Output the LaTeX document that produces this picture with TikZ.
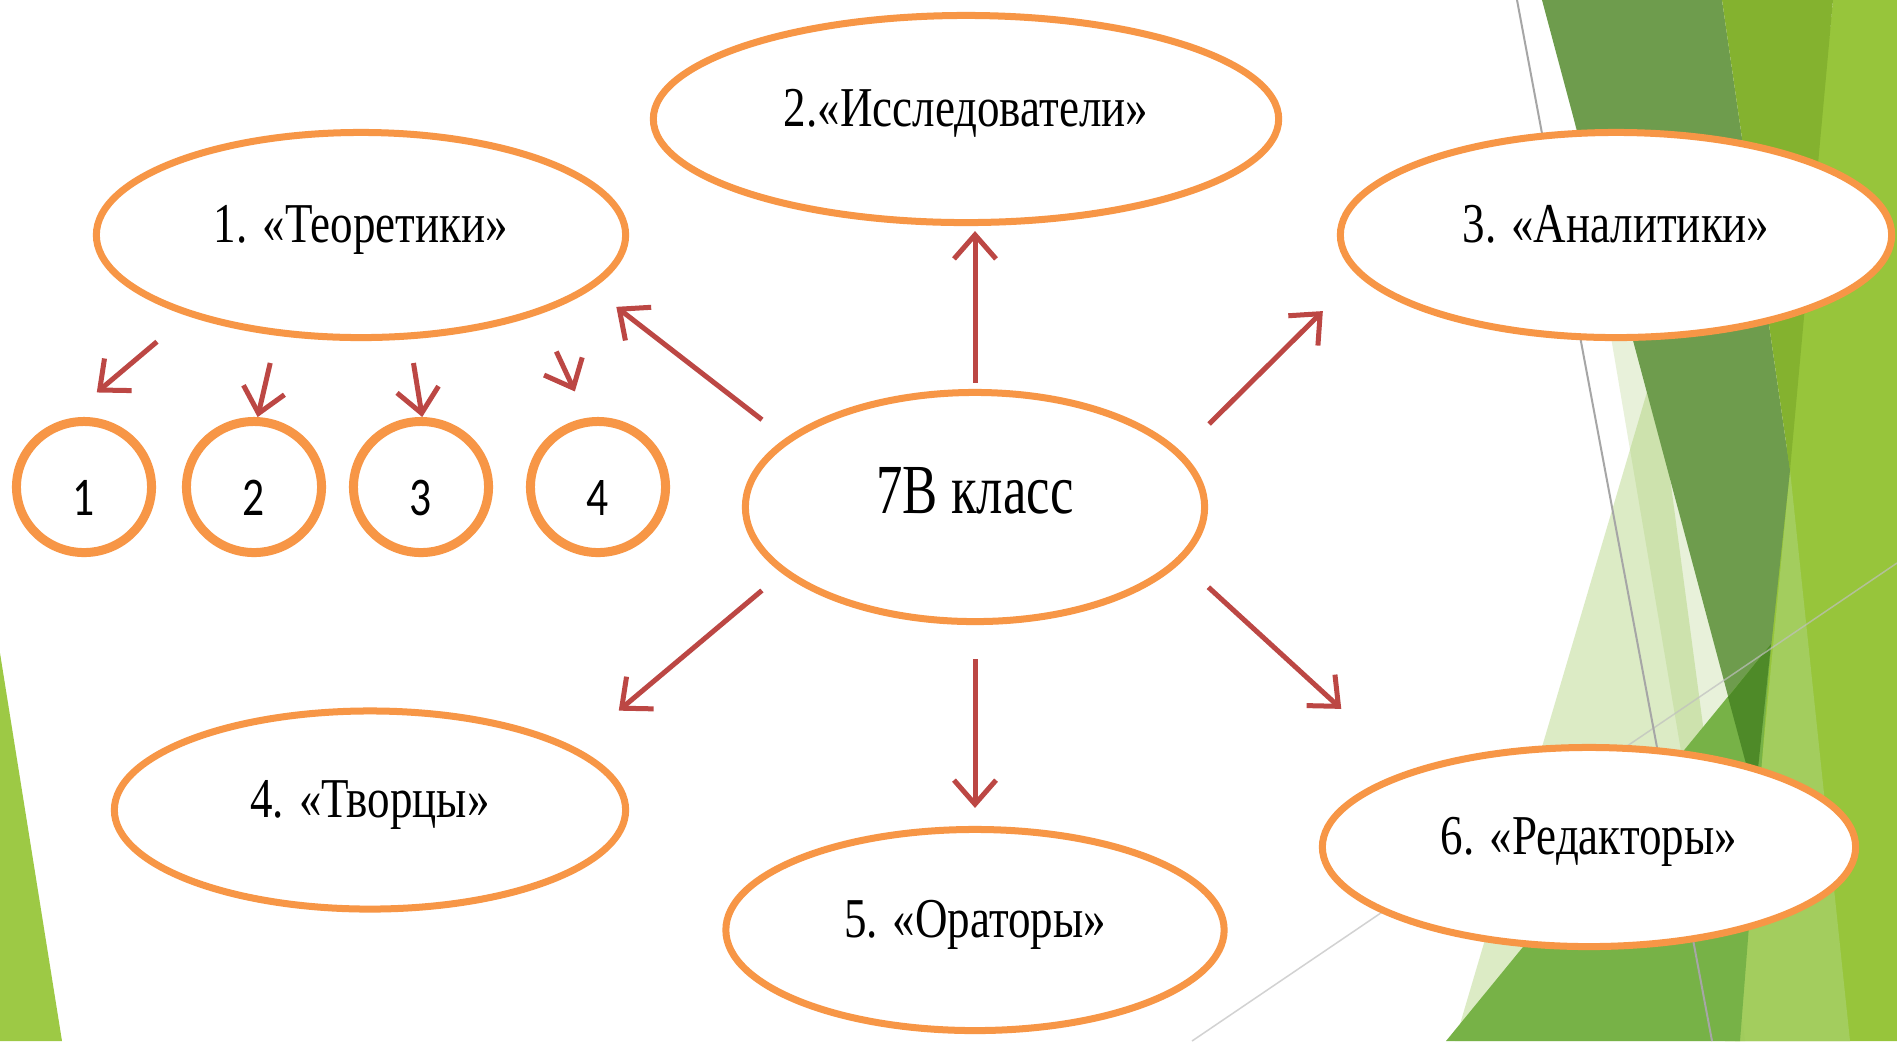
\documentclass[tikz,border=0pt]{standalone}
\usepackage{fontspec}
\setmainfont{Liberation Serif}
\newfontfamily\lblfont[FakeStretch=0.8]{Liberation Serif}
\newfontfamily\ctrfont[FakeStretch=0.75]{Liberation Serif}
\newfontfamily\numfont[FakeStretch=0.8]{Carlito}
\usetikzlibrary{shapes.geometric,arrows.meta}
\definecolor{ringorange}{HTML}{F79646}
\definecolor{arrowred}{HTML}{BC4744}
\definecolor{bgL}{HTML}{97C53B}
\definecolor{bgLL}{HTML}{A3CD5E}
\definecolor{bgB}{HTML}{84B22F}
\definecolor{bgD}{HTML}{6E9C4D}
\definecolor{bgDm}{HTML}{4E8A28}
\definecolor{bgM}{HTML}{77B247}
\definecolor{bgP}{HTML}{E8F1DA}
\definecolor{bgT}{HTML}{9CC85A}
\definecolor{bgS}{HTML}{9DC945}
\tikzset{
  bubble/.style={ellipse, draw=ringorange, fill=white, line width=0.07cm, inner sep=0pt,
    text height=0.37cm, text depth=0.23cm, font=\lblfont\fontsize{16}{18}\selectfont},
  ring/.style={ellipse, draw=ringorange, fill=white, line width=0.09cm, inner sep=0pt,
    minimum width=1.35cm, minimum height=1.31cm, text height=0.56cm, text depth=0cm,
    font=\numfont\fontsize{15.5}{17}\selectfont},
  arr/.style={draw=arrowred, line width=0.05cm, -{Straight Barb[length=0.24cm,width=0.42cm]}},
}
\begin{document}
\begin{tikzpicture}[x=0.01cm,y=-0.01cm]
\useasboundingbox (0,0) rectangle (1897,1041);
\fill[white] (0,0) rectangle (1897,1041);
% background facets
\fill[bgS] (0,653) -- (62,1041) -- (0,1041) -- cycle;
\fill[bgL] (1833,0) -- (1897,0) -- (1897,1041) -- (1725,1041) -- cycle;
\fill[bgLL] (1790,470) -- (1850,1041) -- (1735,1041) -- cycle;
\fill[bgP] (1554,0) -- (1700,0) -- (1750,800) -- (1730,1041) -- cycle;
\fill[bgT, opacity=0.35] (1655,365) -- (1455,1041) -- (1745,1041) -- cycle;
\fill[bgD] (1542,0) -- (1722,0) -- (1790,470) -- (1755,797) -- cycle;
\fill[bgB] (1722,0) -- (1833,0) -- (1790,470) -- cycle;
\fill[bgM] (1446,1041) -- (1771,644) -- (1740,1041) -- cycle;
\fill[bgDm] (1728,697) -- (1771,644) -- (1755,797) -- cycle;
\draw[black!25, opacity=0.7, line width=0.015cm] (1192,1041) -- (1897,563);
\draw[black!35, line width=0.02cm] (1517,0) -- (1712,1041);
% nodes
\node[bubble, minimum width=5.29cm, minimum height=2.05cm] (t1) at (361,235) {1. «Теоретики»};
\node[bubble, minimum width=6.25cm, minimum height=2.07cm] (t2) at (966,119) {2.«Исследователи»};
\node[bubble, minimum width=5.51cm, minimum height=2.05cm] (t3) at (1616,235) {3. «Аналитики»};
\node[bubble, minimum width=5.11cm, minimum height=1.98cm] (t4) at (370,810) {4. «Творцы»};
\node[bubble, minimum width=4.98cm, minimum height=2.01cm] (t5) at (975,930) {5. «Ораторы»};
\node[bubble, minimum width=5.33cm, minimum height=1.99cm] (t6) at (1589,847) {6. «Редакторы»};
\node[bubble, minimum width=4.59cm, minimum height=2.29cm, text height=0.47cm, text depth=0.35cm,
      font=\ctrfont\fontsize{20}{24}\selectfont] (c) at (975,507) {7В класс};
\node[ring] (k1) at (84,487) {1};
\node[ring] (k2) at (254,487) {2};
\node[ring] (k3) at (421,487) {3};
\node[ring] (k4) at (598,487) {4};
% connectors
\draw[arr, shorten <=0.30cm, shorten >=0.30cm] (c.160.6) -- (t1.-13.3);
\draw[arr, shorten <=0.06cm, shorten >=0.05cm] (c.north) -- (c.north |- t2.south);
\draw[arr, shorten <=0.395cm, shorten >=0.50cm] (c.15.6) -- (t3.-171.8);
\draw[arr, shorten <=0.265cm, shorten >=0.57cm] (c.-161.6) -- (t4.17.5);
\draw[arr, shorten <=0.34cm, shorten >=0.18cm] (c.south) -- (c.south |- t5.north);
\draw[arr, shorten <=0.37cm, shorten >=0.91cm] (c.-15.7) -- (t6.157.5);
\draw[arr, shorten <=0.40cm, shorten >=0.42cm] (t1.-155.8) -- (k1.106.2);
\draw[arr, shorten <=0.28cm] (t1.-130.1) -- (k2.87);
\draw[arr, shorten <=0.24cm] (t1.-65.2) -- (k3.89);
\draw[arr, shorten <=0.41cm, shorten >=0.29cm] (t1.-24.7) -- (k4.99);
\end{tikzpicture}
\end{document}
